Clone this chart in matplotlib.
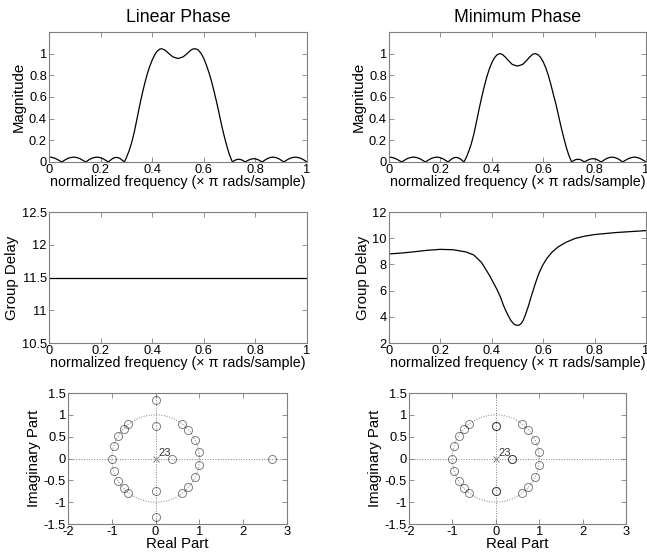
import numpy as np
import matplotlib
matplotlib.use('Agg')
import matplotlib.pyplot as plt

plt.rcParams['font.family'] = ['Liberation Sans', 'DejaVu Sans']
plt.rcParams['axes.unicode_minus'] = False

# stopband lobes, shared by both magnitude plots
stop_lo_f = [0.000, 0.012, 0.025, 0.037, 0.049, 0.061, 0.072, 0.084, 0.0955, 0.107,
             0.119, 0.130, 0.142, 0.153, 0.164, 0.175, 0.186, 0.197, 0.208, 0.219,
             0.230, 0.238, 0.2455, 0.253, 0.261, 0.269, 0.2765, 0.284, 0.292]
stop_lo_m = [0.045, 0.042, 0.032, 0.017, 0.000, 0.017, 0.032, 0.041, 0.045, 0.041,
             0.032, 0.017, 0.000, 0.017, 0.032, 0.041, 0.045, 0.041, 0.032, 0.017,
             0.000, 0.016, 0.030, 0.039, 0.042, 0.039, 0.030, 0.016, 0.000]
stop_hi_f = [0.711, 0.717, 0.723, 0.729, 0.7355, 0.742, 0.748, 0.754, 0.760, 0.768,
             0.777, 0.785, 0.793, 0.801, 0.810, 0.818, 0.826, 0.8365, 0.847, 0.8575,
             0.868, 0.8785, 0.889, 0.8995, 0.910, 0.921, 0.9325, 0.944, 0.955, 0.966,
             0.9775, 0.989, 1.000]
stop_hi_m = [0.000, 0.010, 0.018, 0.023, 0.025, 0.023, 0.018, 0.010, 0.000, 0.011,
             0.021, 0.028, 0.030, 0.028, 0.021, 0.011, 0.000, 0.017, 0.032, 0.041,
             0.045, 0.041, 0.032, 0.017, 0.000, 0.017, 0.032, 0.041, 0.045, 0.041,
             0.032, 0.017, 0.000]

# passband, linear phase
pass_lin_f = [0.300, 0.310, 0.320, 0.330, 0.340, 0.350, 0.360, 0.370, 0.380, 0.390,
              0.400, 0.410, 0.420, 0.430, 0.437, 0.450, 0.465, 0.480, 0.500, 0.520,
              0.535, 0.550, 0.558, 0.567, 0.578, 0.590, 0.600, 0.610, 0.620, 0.630,
              0.640, 0.650, 0.660, 0.670, 0.680, 0.690, 0.700]
pass_lin_m = [0.040, 0.100, 0.175, 0.270, 0.385, 0.505, 0.615, 0.715, 0.805, 0.880,
              0.940, 0.990, 1.025, 1.043, 1.045, 1.032, 1.000, 0.970, 0.955, 0.970,
              1.000, 1.032, 1.043, 1.045, 1.035, 1.000, 0.955, 0.895, 0.825, 0.745,
              0.650, 0.550, 0.440, 0.330, 0.230, 0.140, 0.062]

# passband, minimum phase
pass_min_f = [0.300, 0.310, 0.320, 0.330, 0.340, 0.350, 0.360, 0.370, 0.380, 0.390,
              0.400, 0.410, 0.420, 0.430, 0.440, 0.452, 0.465, 0.480, 0.500, 0.520,
              0.535, 0.548, 0.560, 0.570, 0.580, 0.590, 0.600, 0.610, 0.620, 0.630,
              0.640, 0.650, 0.660, 0.670, 0.680, 0.690, 0.700]
pass_min_m = [0.038, 0.095, 0.165, 0.255, 0.365, 0.480, 0.590, 0.690, 0.780, 0.855,
              0.915, 0.960, 0.988, 1.000, 0.995, 0.970, 0.935, 0.900, 0.885, 0.900,
              0.935, 0.970, 0.995, 1.000, 0.990, 0.965, 0.925, 0.870, 0.800, 0.715,
              0.620, 0.530, 0.425, 0.320, 0.225, 0.135, 0.060]

freq_lin = stop_lo_f + pass_lin_f + stop_hi_f
mag_lin = stop_lo_m + pass_lin_m + stop_hi_m
freq_min = stop_lo_f + pass_min_f + stop_hi_f
mag_min = stop_lo_m + pass_min_m + stop_hi_m

# group delay
gd_freq = [0.0, 1.0]
gd_lin = [11.5, 11.5]
gd_freq_min = [0.00, 0.05, 0.10, 0.15, 0.20, 0.25, 0.30, 0.33, 0.36, 0.39,
               0.42, 0.435, 0.445, 0.455, 0.465, 0.475, 0.485, 0.493, 0.500, 0.507,
               0.515, 0.522, 0.530, 0.543, 0.555, 0.568, 0.581, 0.597, 0.614, 0.635,
               0.659, 0.690, 0.724, 0.760, 0.800, 0.880, 1.000]
gd_min = [8.80, 8.87, 8.97, 9.08, 9.15, 9.12, 8.95, 8.72, 8.15, 7.20,
          6.10, 5.45, 4.90, 4.45, 4.05, 3.70, 3.47, 3.37, 3.35, 3.37,
          3.50, 3.72, 4.10, 4.85, 5.65, 6.45, 7.20, 7.90, 8.45, 8.95,
          9.35, 9.70, 9.98, 10.15, 10.28, 10.43, 10.58]

# zeros on the unit circle (both filters)
uc_re = [0.989, 0.905, 0.750, 0.600, -0.623, -0.729, -0.853, -0.960,
         0.989, 0.905, 0.750, 0.600, -0.623, -0.729, -0.853, -0.960, -1.000]
uc_im = [0.147, 0.426, 0.661, 0.800, 0.783, 0.685, 0.522, 0.279,
         -0.147, -0.426, -0.661, -0.800, -0.783, -0.685, -0.522, -0.279, 0.000]
# off-circle zeros
lin_re = [0.375, 2.667, 0.0, 0.0, 0.0, 0.0]
lin_im = [0.0, 0.0, 0.75, -0.75, 1.333, -1.333]
min_re = [0.375, 0.378, 0.0, 0.0, 0.0, 0.0]
min_im = [0.0, 0.0, 0.75, -0.75, 0.755, -0.755]
n_poles = 23

fig = plt.figure(figsize=(6.47, 5.53), dpi=100)

GRAY = '#7f7f7f'
FS_TICK = 9.3
FS_LAB = 10.3


def style(ax):
    for s in ax.spines.values():
        s.set_color(GRAY)
        s.set_linewidth(0.8)
    ax.tick_params(direction='in', length=3.5, width=0.6, color=GRAY,
                   top=True, right=True, labelsize=FS_TICK, pad=1.5)


def freq_axes(rect, xs, ys, yticks, ylim, ylabel, title=None):
    ax = fig.add_axes(rect)
    ax.plot(xs, ys, color='k', lw=0.9)
    ax.set_xlim(0, 1)
    ax.set_ylim(*ylim)
    ax.set_xticks([0, 0.2, 0.4, 0.6, 0.8, 1])
    ax.set_xticklabels(['0', '0.2', '0.4', '0.6', '0.8', '1'])
    ax.set_yticks(yticks)
    ax.set_yticklabels(['%g' % t for t in yticks])
    ax.set_xlabel('normalized frequency (\u00d7 \u03c0 rads/sample)', fontsize=FS_LAB, labelpad=-1)
    ax.set_ylabel(ylabel, fontsize=10.8, labelpad=2)
    if title:
        ax.set_title(title, fontsize=12.8, pad=7)
    style(ax)
    return ax


def pz_axes(rect, zr, zi):
    ax = fig.add_axes(rect)
    t = np.linspace(0, 2 * np.pi, 200)
    ax.plot(np.cos(t), np.sin(t), color=GRAY, lw=0.7, ls=':')
    ax.axhline(0, color=GRAY, lw=0.7, ls=':')
    ax.axvline(0, color=GRAY, lw=0.7, ls=':')
    ax.plot(zr, zi, 'o', ms=5.8, mfc='none', mec='k', mew=0.7, alpha=0.5, ls='none')
    ax.plot([0], [0], 'x', ms=4, color=GRAY, mew=0.7)
    ax.text(0.07, 0.06, str(n_poles), fontsize=8, color='#333333')
    ax.set_xlim(-2, 3)
    ax.set_ylim(-1.5, 1.5)
    ax.set_xticks([-2, -1, 0, 1, 2, 3])
    ax.set_xticklabels(['-2', '-1', '0', '1', '2', '3'])
    ax.set_yticks([-1.5, -1, -0.5, 0, 0.5, 1, 1.5])
    ax.set_yticklabels(['-1.5', '-1', '-0.5', '0', '0.5', '1', '1.5'])
    ax.set_xlabel('Real Part', fontsize=10.8, labelpad=-1)
    ax.set_ylabel('Imaginary Part', fontsize=10.8, labelpad=2)
    style(ax)
    return ax


freq_axes([0.0757, 0.7071, 0.3988, 0.2351], freq_lin, mag_lin,
          [0, 0.2, 0.4, 0.6, 0.8, 1], (0, 1.2), 'Magnitude', 'Linear Phase')
freq_axes([0.6012, 0.7071, 0.3972, 0.2351], freq_min, mag_min,
          [0, 0.2, 0.4, 0.6, 0.8, 1], (0, 1.2), 'Magnitude', 'Minimum Phase')
freq_axes([0.0757, 0.3797, 0.3988, 0.2369], gd_freq, gd_lin,
          [10.5, 11, 11.5, 12, 12.5], (10.5, 12.5), 'Group Delay')
freq_axes([0.6012, 0.3797, 0.3972, 0.2369], gd_freq_min, gd_min,
          [2, 4, 6, 8, 10, 12], (2, 12), 'Group Delay')

pz_axes([0.1051, 0.0524, 0.3385, 0.2369], uc_re + lin_re, uc_im + lin_im)
pz_axes([0.6321, 0.0524, 0.3354, 0.2369], uc_re + min_re, uc_im + min_im)

fig.savefig('out.png', dpi=100)
